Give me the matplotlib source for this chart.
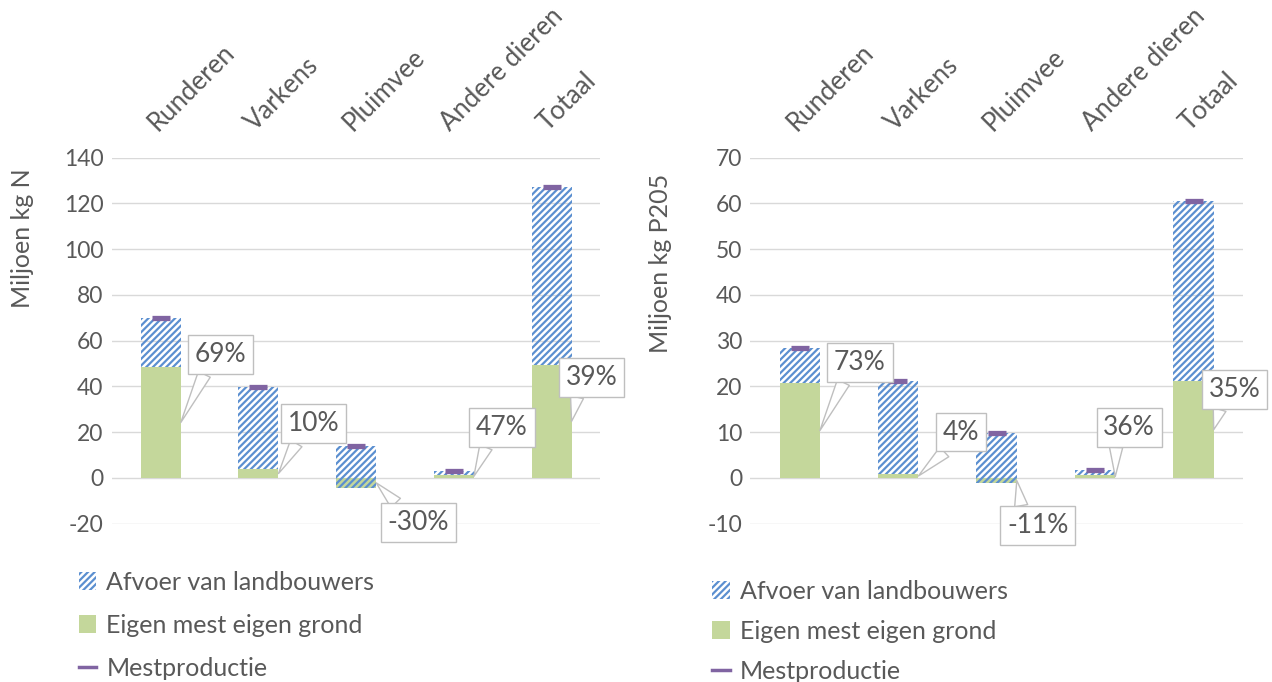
import matplotlib.pyplot as plt
from matplotlib.patches import Patch
from matplotlib.lines import Line2D

plt.rcParams['font.family'] = ['Lato', 'DejaVu Sans']
plt.rcParams['axes.unicode_minus'] = False
plt.rcParams['hatch.linewidth'] = 1.6
plt.rcParams['hatch.color'] = '#5b8fd0'

categories = ["Runderen", "Varkens", "Pluimvee", "Andere dieren", "Totaal"]

# Stikstof (miljoen kg N)
n_productie = [70.0, 39.7, 14.0, 3.0, 127.0]
n_eigen = [48.5, 3.9, -4.2, 1.4, 49.5]
n_pct = ["69%", "10%", "-30%", "47%", "39%"]

# Fosfaat (miljoen kg P2O5)
p_productie = [28.3, 21.2, 9.8, 1.7, 60.4]
p_eigen = [20.7, 0.85, -1.1, 0.6, 21.1]
p_pct = ["73%", "4%", "-11%", "36%", "35%"]

GREEN = '#c4d79b'
BLUE = '#5b8fd0'
PURPLE = '#8064a2'
GRID = '#d9d9d9'
TEXT = '#595959'
HATCH = '/////'

# label offsets (pixels) of callouts relative to their tip
n_offsets = [(40, 68), (35, 50), (42, -40), (28, 49), (20, 44)]
p_offsets = [(40, 68), (43, 44), (21, -45), (14, 49), (21, 40)]


def draw_panel(ax, productie, eigen, pct, offsets, ylim, step, ylabel, ylabel_y):
    x = list(range(len(categories)))
    w = 0.41
    afvoer = [p - e for p, e in zip(productie, eigen)]
    ax.bar(x, eigen, width=w, color=GREEN, zorder=2)
    ax.bar(x, afvoer, bottom=eigen, width=w, facecolor='none',
           edgecolor=BLUE, hatch=HATCH, linewidth=0, zorder=3)
    ax.plot(x, productie, linestyle='none', marker='_', markersize=13,
            markeredgewidth=3.8, color=PURPLE, zorder=4)

    for i in x:
        ax.annotate(pct[i], xy=(i + w / 2, eigen[i] / 2),
                    xytext=offsets[i], textcoords='offset pixels',
                    ha='center', va='center', fontsize=19, color=TEXT, zorder=6,
                    bbox=dict(boxstyle='square,pad=0.26', fc='white', ec='#bfbfbf', lw=1),
                    arrowprops=dict(arrowstyle='wedge,tail_width=0.5,shrink_factor=0.5',
                                    fc='white', ec='#bfbfbf', lw=1,
                                    relpos=(0.25, 0.0) if offsets[i][1] > 0 else (0.25, 1.0),
                                    shrinkA=0, shrinkB=0),
                    annotation_clip=False)

    ax.set_xlim(-0.5, len(categories) - 0.5)
    ax.set_ylim(*ylim)
    ax.set_yticks(range(ylim[0], ylim[1] + 1, step))
    ax.grid(axis='y', color=GRID, linewidth=1, zorder=0)
    ax.set_axisbelow(True)
    for s in ax.spines.values():
        s.set_visible(False)
    ax.tick_params(length=0, labelsize=16.5, colors=TEXT)
    ax.tick_params(axis='y', pad=6)
    ax.xaxis.tick_top()
    ax.set_xticks(x)
    ax.set_xticklabels(categories, rotation=45, ha='left', va='bottom',
                       rotation_mode='anchor', fontsize=18.5)
    ax.tick_params(axis='x', pad=16)
    ax.set_ylabel(ylabel, fontsize=18, color=TEXT)
    ax.yaxis.set_label_coords(-0.16, ylabel_y)


fig = plt.figure(figsize=(12.72, 6.82), dpi=100)
ax1 = fig.add_axes([0.088, 0.232, 0.384, 0.537])
ax2 = fig.add_axes([0.590, 0.232, 0.387, 0.537])

draw_panel(ax1, n_productie, n_eigen, n_pct, n_offsets, (-20, 140), 20, "Miljoen kg N", 0.78)
draw_panel(ax2, p_productie, p_eigen, p_pct, p_offsets, (-10, 70), 10, "Miljoen kg P205", 0.71)

handles = [Patch(facecolor='white', edgecolor=BLUE, hatch=HATCH, linewidth=0),
           Patch(facecolor=GREEN, linewidth=0),
           Line2D([], [], color=PURPLE, linewidth=2.5)]
labels = ["Afvoer van landbouwers", "Eigen mest eigen grond", "Mestproductie"]
for xa, ya, sp in [(0.062, 0.163, 0.8), (0.560, 0.150, 0.68)]:
    fig.legend(handles, labels, loc='upper left', bbox_to_anchor=(xa, ya),
               frameon=False, fontsize=18, labelcolor=TEXT, handlelength=0.7,
               handleheight=0.7, handletextpad=0.4, labelspacing=sp,
               borderpad=0, borderaxespad=0)

fig.savefig("out.png", dpi=100)
